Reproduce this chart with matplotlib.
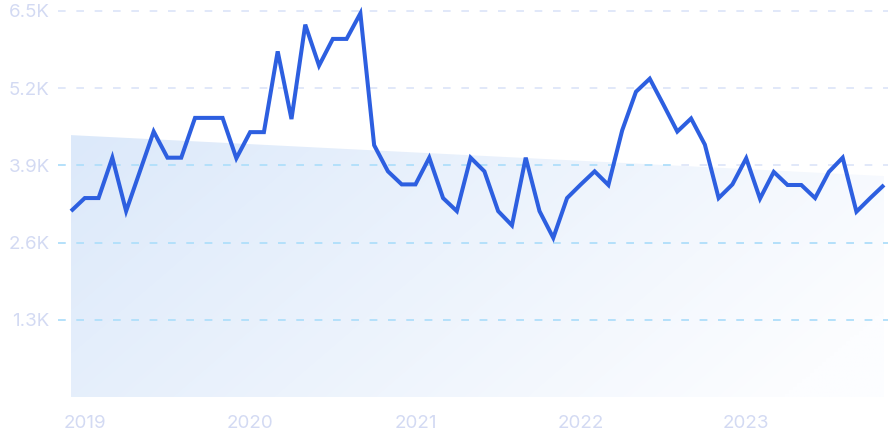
import numpy as np
import pandas as pd
import matplotlib
matplotlib.use("Agg")
import matplotlib.pyplot as plt
from matplotlib.patches import Polygon

# monthly values, Dec 2018 .. Nov 2023
months = pd.date_range("2018-12-01", periods=60, freq="MS")
values = [3130, 3350, 3350, 4030, 3130, 3800, 4470, 4030, 4030, 4700,
          4700, 4700, 4020, 4460, 4460, 5820, 4680, 6270, 5580, 6030,
          6030, 6460, 4240, 3800, 3580, 3580, 4030, 3350, 3130, 4030,
          3800, 3130, 2890, 4030, 3130, 2680, 3350, 3580, 3800, 3570,
          4490, 5140, 5360, 4920, 4470, 4690, 4250, 3350, 3580, 4020,
          3340, 3790, 3570, 3570, 3350, 3790, 4030, 3120, 3350, 3570]
trend = [4410, 3720]   # shaded trend area, start / end
yticks = [1300, 2600, 3900, 5200, 6500]
ytick_labels = ["1.3K", "2.6K", "3.9K", "5.2K", "6.5K"]
years = [2019, 2020, 2021, 2022, 2023]

line_col = "#2d5fe0"
label_col = "#d3daf3"
grid_cyan = "#a9dffb"
grid_lav = "#d9e2f8"

W, H = 888, 443
fig = plt.figure(figsize=(W / 100, H / 100), dpi=100)
ax = fig.add_axes([58 / W, (H - 397) / H, (888 - 58) / W, 386 / H])

x = np.arange(len(values))
n = len(values) - 1
px = 813 / n
ax.set_xlim(-13 / px, n + 4 / px)
ax.set_ylim(0, 6500)

# gradient trend area
poly = Polygon([(0, 0), (0, trend[0]), (n, trend[1]), (n, 0)], closed=True,
               facecolor="none", edgecolor="none")
ax.add_patch(poly)
gx, gy = np.meshgrid(np.linspace(0, 1, 200), np.linspace(0, 1, 200))
t = np.clip(0.8 * gx + 0.3 * gy, 0, 1)  # gy: 0 top, 1 bottom
c0 = np.array([220, 233, 250]) / 255
c1 = np.array([252, 253, 255]) / 255
img = c0[None, None, :] * (1 - t[..., None]) + c1[None, None, :] * t[..., None]
im = ax.imshow(img, extent=[0, n, 0, trend[0]], aspect="auto", zorder=1,
               interpolation="bilinear")
im.set_clip_path(poly)

# dashed grid lines
slope = (trend[1] - trend[0]) / n
for yv in yticks:
    ax.plot([-13 / px, n + 4 / px], [yv, yv], color=grid_lav, lw=1.1,
            dashes=(5, 7), zorder=2, clip_on=False)
    if yv < trend[0]:
        xc = min(n + 4 / px, (yv - trend[0]) / slope) if yv > trend[1] else n + 4 / px
        ax.plot([-13 / px, xc], [yv, yv], color=grid_cyan, lw=1.1,
                dashes=(5, 7), zorder=2, clip_on=False)

ax.plot(x, values, color=line_col, lw=2.9, zorder=3, clip_on=False,
        solid_joinstyle="miter", solid_capstyle="butt")

ax.set_yticks(yticks)
ax.set_yticklabels(ytick_labels)
jan_idx = [i for i, m in enumerate(months) if m.month == 1]
ax.set_xticks(jan_idx)
ax.set_xticklabels([str(y) for y in years])
ax.tick_params(axis="both", length=0, labelcolor=label_col, labelsize=13.5)
ax.tick_params(axis="y", pad=6)
ax.tick_params(axis="x", pad=13)
for lab in ax.get_xticklabels() + ax.get_yticklabels():
    lab.set_fontfamily("Inter")
for s in ax.spines.values():
    s.set_visible(False)

fig.savefig("out.png", dpi=100)
